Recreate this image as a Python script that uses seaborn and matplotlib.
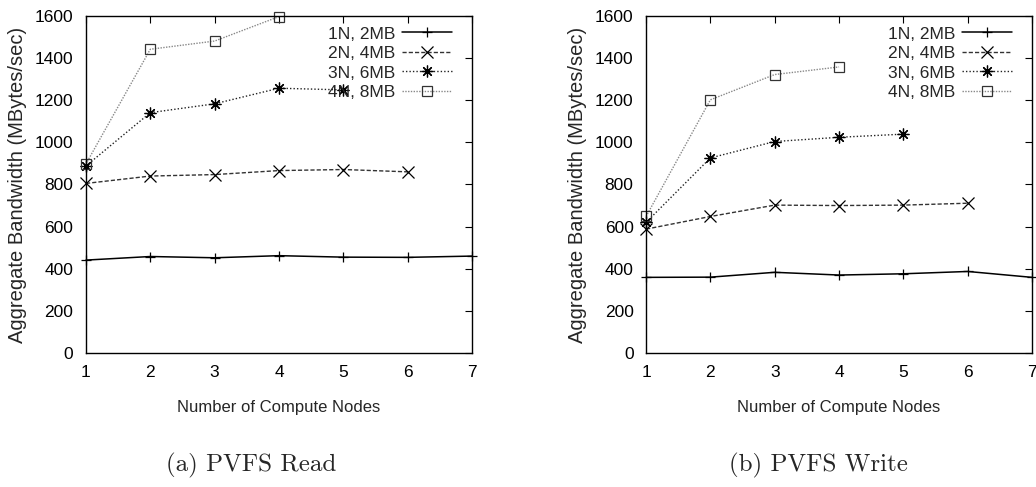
import matplotlib
matplotlib.use("Agg")
import matplotlib.pyplot as plt
import seaborn as sns
import pandas as pd

# ---------------- data ----------------
series_labels = ["1N, 2MB", "2N, 4MB", "3N, 6MB", "4N, 8MB"]

read_nodes_1n = [1, 2, 3, 4, 5, 6, 7]
read_bw_1n = [441, 458, 452, 462, 455, 454, 460]
read_nodes_2n = [1, 2, 3, 4, 5, 6]
read_bw_2n = [805, 840, 847, 866, 871, 860]
read_nodes_3n = [1, 2, 3, 4, 5]
read_bw_3n = [888, 1141, 1183, 1257, 1249]
read_nodes_4n = [1, 2, 3, 4]
read_bw_4n = [898, 1442, 1481, 1597]

write_nodes_1n = [1, 2, 3, 4, 5, 6, 7]
write_bw_1n = [359, 360, 383, 370, 376, 387, 359]
write_nodes_2n = [1, 2, 3, 4, 5, 6]
write_bw_2n = [588, 648, 702, 700, 702, 711]
write_nodes_3n = [1, 2, 3, 4, 5]
write_bw_3n = [620, 926, 1004, 1024, 1039]
write_nodes_4n = [1, 2, 3, 4]
write_bw_4n = [648, 1202, 1322, 1358]

x_ticks = [1, 2, 3, 4, 5, 6, 7]
y_ticks = [0, 200, 400, 600, 800, 1000, 1200, 1400, 1600]
x_label = "Number of Compute Nodes"
y_label = "Aggregate Bandwidth (MBytes/sec)"
captions = ["(a) PVFS Read", "(b) PVFS Write"]

# ---------------- styles ----------------
styles = [
    dict(color="#000000", linestyle="-", marker="+", markersize=7, lw=1.1),
    dict(color="#333333", linestyle=(0, (3, 1.5)), marker="x", markersize=8, lw=1.0),
    dict(color="#222222", linestyle=(0, (1, 1.5)), marker=(8, 2, 0), markersize=8.5, lw=1.0),
    dict(color="#888888", linestyle=(0, (1, 1.0)), marker="s", markersize=7.5, lw=1.0),
]

sns.set_style("white")
plt.rcParams["font.family"] = ["Liberation Sans", "DejaVu Sans"]

fig = plt.figure(figsize=(10.36, 4.87), dpi=100)
ax_l = fig.add_axes([0.083, 0.2752, 0.3726, 0.692])
ax_r = fig.add_axes([0.6236, 0.2752, 0.3726, 0.692])

panels = [
    (ax_l, [(read_nodes_1n, read_bw_1n), (read_nodes_2n, read_bw_2n),
            (read_nodes_3n, read_bw_3n), (read_nodes_4n, read_bw_4n)]),
    (ax_r, [(write_nodes_1n, write_bw_1n), (write_nodes_2n, write_bw_2n),
            (write_nodes_3n, write_bw_3n), (write_nodes_4n, write_bw_4n)]),
]

for ax, data in panels:
    for (xs, ys), lab, st in zip(data, series_labels, styles):
        df = pd.DataFrame({"nodes": xs, "bw": ys})
        is_sq = st["marker"] == "s"
        sns.lineplot(data=df, x="nodes", y="bw", ax=ax, label=lab,
                     color=st["color"], linestyle=st["linestyle"], lw=st["lw"],
                     marker=st["marker"], markersize=st["markersize"],
                     markeredgewidth=0.9,
                     markeredgecolor="#333333" if is_sq else "#000000",
                     markerfacecolor="none" if is_sq else st["color"],
                     clip_on=False, errorbar=None)
    ax.set_xlim(1, 7)
    ax.set_ylim(0, 1600)
    ax.set_xticks(x_ticks)
    ax.set_yticks(y_ticks)
    ax.set_xticklabels([str(v) for v in x_ticks])
    ax.set_yticklabels([str(v) for v in y_ticks])
    ax.tick_params(direction="in", length=5, width=0.8, top=True, right=True,
                   labelsize=12.5, pad=9, colors="#000000")
    for sp in ax.spines.values():
        sp.set_color("#000000")
        sp.set_linewidth(1.0)
    ax.set_xlabel(x_label, fontsize=12, labelpad=14)
    ax.set_ylabel(y_label, fontsize=14.5, labelpad=6)
    leg = ax.legend(loc="upper right", bbox_to_anchor=(0.948, 0.969), frameon=False,
                    markerfirst=False, fontsize=12.5, handlelength=2.9, handletextpad=0.35,
                    labelspacing=0.25, borderpad=0, borderaxespad=0)

fig.text(0.242, 0.045, captions[0], fontsize=18, family="cmr10", ha="center", va="center")
fig.text(0.79, 0.045, captions[1], fontsize=18, family="cmr10", ha="center", va="center")

fig.savefig("out.png", dpi=100)
